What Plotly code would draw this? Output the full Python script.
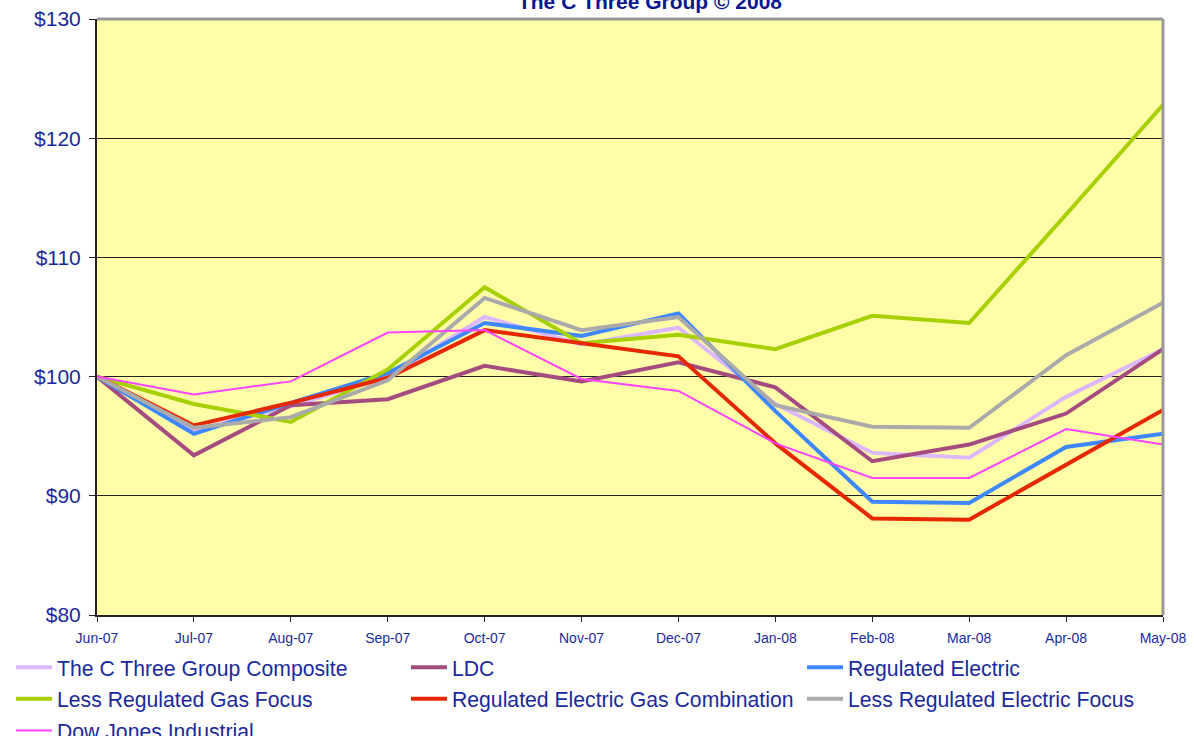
import plotly.graph_objects as go

months = ["Jun-07", "Jul-07", "Aug-07", "Sep-07", "Oct-07", "Nov-07",
          "Dec-07", "Jan-08", "Feb-08", "Mar-08", "Apr-08", "May-08"]

composite = [100, 95.5, 97.5, 100.0, 105.0, 102.7, 104.1, 97.7, 93.6, 93.2, 98.3, 102.3]
ldc = [100, 93.4, 97.6, 98.1, 100.9, 99.6, 101.2, 99.1, 92.9, 94.3, 96.9, 102.3]
reg_electric = [100, 95.2, 97.8, 100.3, 104.5, 103.4, 105.3, 97.1, 89.5, 89.4, 94.1, 95.2]
less_reg_gas = [100, 97.7, 96.2, 100.6, 107.5, 102.8, 103.5, 102.3, 105.1, 104.5, 113.6, 122.8]
reg_elec_gas = [100, 95.9, 97.8, 99.9, 103.9, 102.8, 101.7, 94.4, 88.1, 88.0, 92.6, 97.2]
less_reg_elec = [100, 95.7, 96.6, 99.7, 106.6, 103.9, 105.0, 97.6, 95.8, 95.7, 101.8, 106.2]
dow_jones = [100, 98.5, 99.6, 103.7, 103.9, 99.8, 98.8, 94.4, 91.5, 91.5, 95.6, 94.3]

# (name, values, colour, width, legend column)
series = [
    ("The C Three Group Composite", composite, "#DDB8FF", 4, "legend"),
    ("LDC", ldc, "#A44C80", 4, "legend2"),
    ("Regulated Electric", reg_electric, "#3D87FF", 4, "legend3"),
    ("Less Regulated Gas Focus", less_reg_gas, "#A6D000", 4, "legend"),
    ("Regulated Electric Gas Combination", reg_elec_gas, "#E62800", 4, "legend2"),
    ("Less Regulated Electric Focus", less_reg_elec, "#AAAAAA", 4, "legend3"),
    ("Dow Jones Industrial", dow_jones, "#FF44FF", 2, "legend"),
]

y_ticks = [80, 90, 100, 110, 120, 130]
y_labels = ["$80", "$90", "$100", "$110", "$120", "$130"]

text_color = "#1A2A9C"
font_family = "Liberation Sans, Arial, sans-serif"

fig = go.Figure()
for name, vals, color, w, leg in series:
    fig.add_trace(go.Scatter(x=months, y=vals, name=name, mode="lines",
                             legend=leg, legendgroup=name,
                             line=dict(color=color, width=w)))

W, H = 1194, 736


def legend_cfg(x_px):
    return dict(orientation="v", xref="container", yref="container",
                x=x_px / W, xanchor="left", y=1 - 647 / H, yanchor="top",
                font=dict(size=21.2, color=text_color, family=font_family),
                bgcolor="rgba(0,0,0,0)", itemwidth=36, tracegroupgap=1,
                traceorder="grouped")


fig.update_layout(
    width=W, height=H,
    paper_bgcolor="white",
    plot_bgcolor="#FFFDA8",
    margin=dict(l=97, r=31, t=19, b=121, autoexpand=False),
    font=dict(family=font_family, color=text_color),
    title=dict(text="<b>The C Three Group © 2008</b>", x=650 / W, xanchor="center",
               xref="container", yref="container", y=1 - 2 / H, yanchor="middle",
               font=dict(size=21, color="#0A168F", family=font_family)),
    showlegend=True,
    legend=legend_cfg(11),
    legend2=legend_cfg(406),
    legend3=legend_cfg(802),
)

fig.update_xaxes(type="category", range=[0, 11], showgrid=False,
                 showline=True, linecolor="#222222", linewidth=1.5,
                 ticks="outside", ticklen=5, tickcolor="#222222",
                 ticklabelstandoff=4,
                 tickfont=dict(size=14, color=text_color), zeroline=False)
fig.update_yaxes(range=[80, 130], tickvals=y_ticks, ticktext=y_labels,
                 showgrid=True, gridcolor="#222222", gridwidth=1,
                 showline=True, linecolor="#222222", linewidth=2,
                 ticks="outside", ticklen=6, tickcolor="#222222",
                 ticklabelstandoff=4,
                 tickfont=dict(size=21, color=text_color), zeroline=False)

fig.add_shape(type="line", xref="paper", yref="paper", x0=0, x1=1, y0=1, y1=1,
              line=dict(color="#999999", width=3))
fig.add_shape(type="line", xref="paper", yref="paper", x0=1, x1=1, y0=0, y1=1,
              line=dict(color="#999999", width=3))

fig.write_html("out.html", config={"displayModeBar": False},
               post_script="document.body.style.margin='0';")
